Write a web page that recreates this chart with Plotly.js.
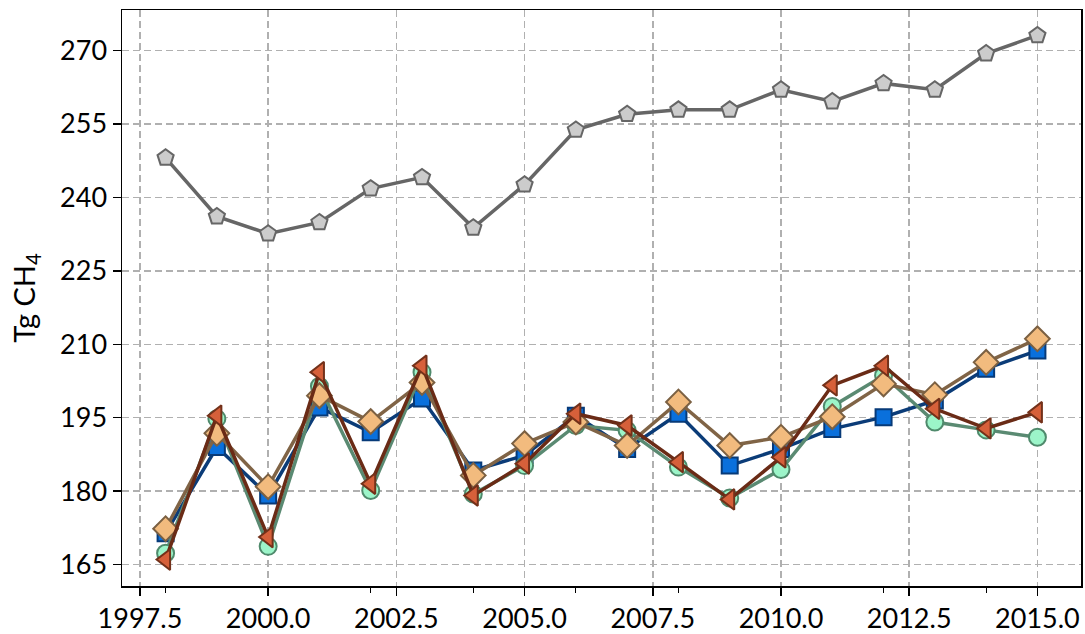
<!DOCTYPE html>
<html>
<head>
<meta charset="utf-8">
<script src="https://cdn.plot.ly/plotly-3.0.1.min.js"></script>
<style>html,body{margin:0;padding:0;background:#fff;}#chart{width:1085px;height:634px;}</style>
</head>
<body>
<div id="chart"></div>
<script>
const years = [1998,1999,2000,2001,2002,2003,2004,2005,2006,2007,2008,2009,2010,2011,2012,2013,2014,2015];
const seriesGray    = [248.1,236.1,232.6,234.9,241.8,244.1,233.8,242.6,253.8,257.0,257.9,257.9,262.0,259.6,263.3,262.0,269.4,273.1];
const seriesSquare  = [171.4,189.0,179.1,197.1,192.0,198.9,184.2,187.3,195.4,188.6,195.8,185.2,188.6,192.7,195.1,198.5,205.0,208.7];
const seriesCircle  = [167.3,194.8,168.7,201.4,180.1,204.3,179.4,185.2,193.4,192.4,184.9,178.6,184.4,197.3,203.6,194.1,192.5,191.0];
const seriesDiamond = [172.3,191.8,180.9,199.5,194.2,202.2,183.2,189.7,194.1,189.3,198.2,189.3,191.0,195.2,201.9,199.7,206.3,211.1];
const seriesTriangle= [166.0,195.4,170.6,204.3,181.5,205.6,179.1,185.6,195.8,193.4,185.9,178.3,186.9,201.6,205.6,196.8,192.8,196.1];
const xTicks = [1997.5,2000.0,2002.5,2005.0,2007.5,2010.0,2012.5,2015.0];
const xTickText = ['1997.5','2000.0','2002.5','2005.0','2007.5','2010.0','2012.5','2015.0'];
const yTicks = [165,180,195,210,225,240,255,270];

function tr(y, lineColor, symbol, size, fill, edge){
  return {x: years, y: y, type:'scatter', mode:'lines+markers',
    line:{color: lineColor, width:3.5},
    marker:{symbol: symbol, size: size, color: fill, line:{color: edge, width:2}},
    hoverinfo:'skip', showlegend:false};
}
const data = [
  tr(seriesGray, '#666666', 'pentagon', 17, '#cccccc', '#666666'),
  tr(seriesSquare, '#0b3c78', 'square', 16, '#0a70dc', '#073a78'),
  tr(seriesCircle, '#5a8a72', 'circle', 17, '#9cf5c9', '#4f8a6c'),
  tr(seriesDiamond, '#806446', 'diamond', 19, '#f2bb7e', '#7b6042'),
  tr(seriesTriangle, '#6a2b16', 'triangle-left', 18, '#d6603a', '#73311a'),
];
const fnt = {family:'Lato, "Open Sans", sans-serif', size:27, color:'#000'};
const layout = {
  width:1085, height:634,
  margin:{l:122, r:4, t:10, b:48},
  paper_bgcolor:'#fff', plot_bgcolor:'#fff',
  font: fnt,
  xaxis:{range:[1997.15,2015.85], tickmode:'array', tickvals:xTicks, ticktext:xTickText,
    ticks:'outside', ticklen:8, tickwidth:1.5, tickcolor:'#000',
    showline:true, linecolor:'#000', linewidth:1.5, mirror:true,
    showgrid:true, gridcolor:'#b0b0b0', gridwidth:1.5, griddash:'7px,4px',
    zeroline:false, tickfont:fnt,
    minor:{tickmode:'linear', tick0:1998, dtick:2, ticks:'outside', ticklen:5, tickwidth:1.2, tickcolor:'#000', showgrid:false}},
  yaxis:{range:[160.6,278.3], tickmode:'array', tickvals:yTicks,
    ticks:'outside', ticklen:8, tickwidth:1.5, tickcolor:'#000',
    showline:true, linecolor:'#000', linewidth:1.5, mirror:true,
    showgrid:true, gridcolor:'#b0b0b0', gridwidth:1.5, griddash:'7px,4px',
    zeroline:false, tickfont:fnt,
    title:{text:'Tg CH<sub>4</sub>', font:{family:'Lato, "Open Sans", sans-serif', size:29, color:'#000'}, standoff:16}}
};
Plotly.newPlot('chart', data, layout, {displayModeBar:false, staticPlot:true});
</script>
</body>
</html>
